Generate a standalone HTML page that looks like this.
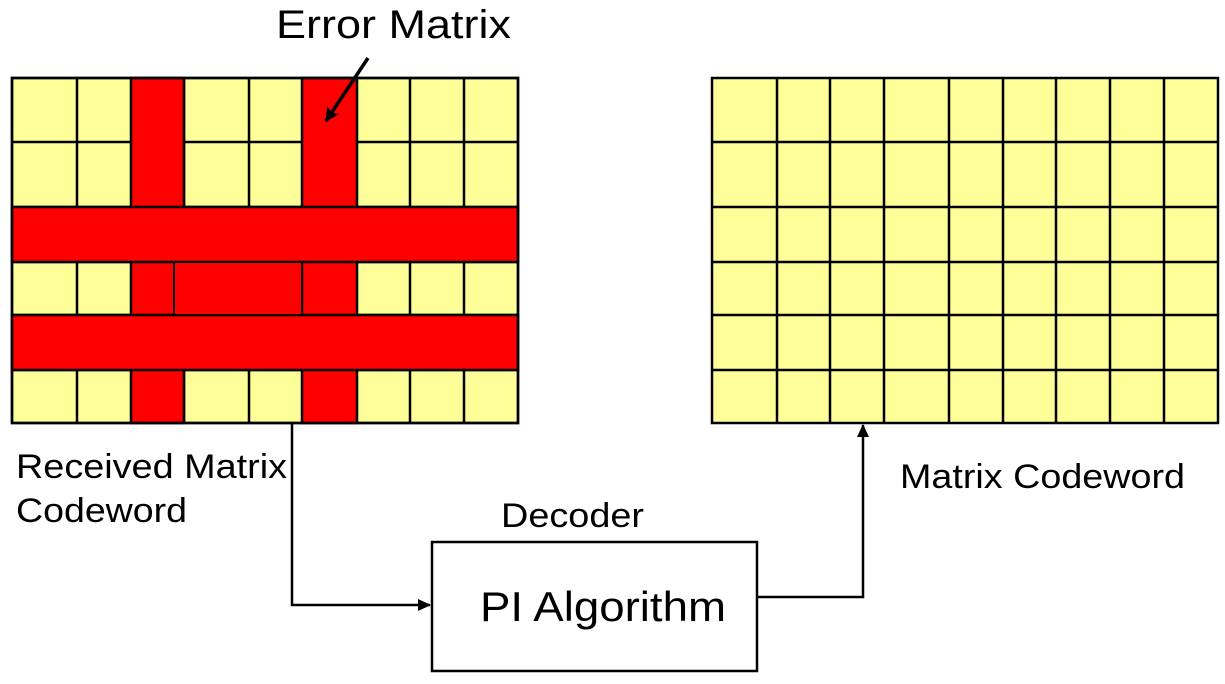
<!DOCTYPE html>
<html><head><meta charset="utf-8"><style>
html,body{margin:0;padding:0;background:#fff;}
svg{display:block;}
text{font-family:"Liberation Sans",Arial,sans-serif;fill:#000;}
</style></head><body>
<svg width="1225" height="684" viewBox="0 0 1225 684" xmlns="http://www.w3.org/2000/svg">
<defs>
<marker id="ah" markerWidth="14" markerHeight="14" refX="12" refY="6" orient="auto" markerUnits="userSpaceOnUse">
<path d="M0,0 L13,6 L0,12 Z" fill="#000"/></marker>
<marker id="ah2" markerWidth="16" markerHeight="16" refX="13" refY="7" orient="auto" markerUnits="userSpaceOnUse">
<path d="M0,0 L14,7 L0,14 L3,7 Z" fill="#000"/></marker>
</defs>
<g stroke="#000" stroke-width="2.5">
<rect x="12" y="78" width="506" height="345" fill="#ffff99"/>
<path d="M77,78V423 M184,78V423 M249,78V423 M410,78V423 M464,78V423" fill="none"/>
<path d="M12,142H518 M12,207H518 M12,262H518 M12,315H518 M12,370H518" fill="none"/>
<rect x="131" y="78" width="53" height="345" fill="#ff0000"/>
<rect x="302" y="78" width="55" height="345" fill="#ff0000"/>
<rect x="12" y="207" width="506" height="55" fill="#ff0000"/>
<rect x="12" y="315" width="506" height="55" fill="#ff0000"/>
<rect x="174" y="262" width="128" height="53" fill="#ff0000" stroke-width="2"/>
<rect x="12" y="78" width="506" height="345" fill="none"/>
<rect x="712" y="78" width="506" height="345" fill="#ffff99"/>
<path d="M777,78V423 M830,78V423 M884,78V423 M949,78V423 M1003,78V423 M1056,78V423 M1110,78V423 M1164,78V423" fill="none"/>
<path d="M712,142H1218 M712,207H1218 M712,262H1218 M712,315H1218 M712,370H1218" fill="none"/>
<rect x="432" y="542" width="325" height="129" fill="#fff"/>
<path d="M292,423V605H430" fill="none" marker-end="url(#ah)"/>
<path d="M757,597H863V425" fill="none" marker-end="url(#ah)"/>
<path d="M368,58L326,121" fill="none" stroke-width="3.5" marker-end="url(#ah2)"/>
</g>
<text x="276" y="38" font-size="40" textLength="235" lengthAdjust="spacingAndGlyphs">Error Matrix</text>
<text x="16" y="478" font-size="34" textLength="271" lengthAdjust="spacingAndGlyphs">Received Matrix</text>
<text x="16" y="522" font-size="34" textLength="171" lengthAdjust="spacingAndGlyphs">Codeword</text>
<text x="501" y="527" font-size="34" textLength="143" lengthAdjust="spacingAndGlyphs">Decoder</text>
<text x="480" y="621" font-size="42" textLength="246" lengthAdjust="spacingAndGlyphs">PI Algorithm</text>
<text x="900" y="488" font-size="34" textLength="285" lengthAdjust="spacingAndGlyphs">Matrix Codeword</text>
</svg>
</body></html>
